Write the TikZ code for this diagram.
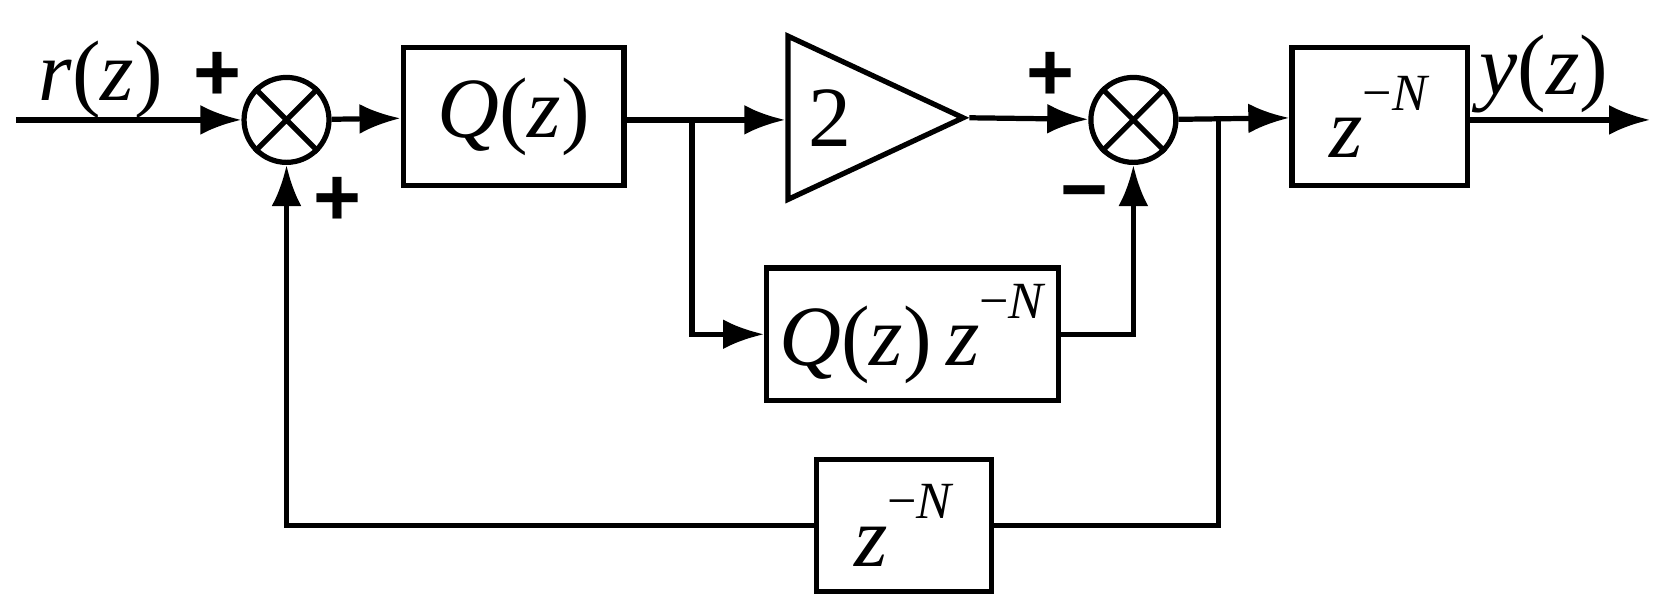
\documentclass[tikz,border=0pt]{standalone}
\usepackage{fontspec}
\setmainfont{Liberation Serif}
\newfontfamily\sgnfont{Liberation Sans}
\usetikzlibrary{arrows.meta,shapes.geometric}
\newcommand\mi[1]{\textit{#1}}
\newcommand\zN{\mi{z}\raisebox{0.55em}{\fontsize{14}{17}\selectfont −\mi{N}}}
\begin{document}
\begin{tikzpicture}[x=0.01cm,y=-0.01cm,line width=1.4pt,
  font=\fontsize{23}{27}\selectfont,
  arr/.style={-{Latex[length=11pt,width=8pt]}},
  sum/.style={draw,circle,minimum size=0.8cm,inner sep=0pt},
  sgn/.style={font=\fontsize{22}{26}\selectfont\sgnfont\bfseries}]
\useasboundingbox (0,0) rectangle (1568,574);
\coordinate (in) at (15,113);
\node[sum] (s1) at (270,113) {};
\draw (s1.45)--(s1.225) (s1.135)--(s1.315);
\node[draw,minimum width=2.08cm,minimum height=1.3cm] (q) at (484,110) {\mi{Q}(\mi{z})};
\node[draw,isosceles triangle,isosceles triangle apex angle=50,minimum height=1.65cm,inner sep=0pt,anchor=west] (g) at (740,111) {};
\node at (782,111) {2};
\node[sum] (s2) at (1068,113) {};
\draw (s2.45)--(s2.225) (s2.135)--(s2.315);
\node[draw,minimum width=1.65cm,minimum height=1.3cm] (d1) at (1300,110) {\zN};
\coordinate (out) at (1555,113);
\node[draw,minimum width=2.5cm,minimum height=1.25cm] (qd) at (860,315) {\mi{Q}(\mi{z})\,\zN};
\node[draw,minimum width=1.65cm,minimum height=1.24cm] (d2) at (852,495) {\zN};
\coordinate (b1) at (652,113);
\coordinate (b2) at (1148,113);
\draw[arr] (in) -- (s1);
\draw[arr] (s1) -- (q);
\draw[arr] (q.east |- b1) -- (g.west |- b1);
\draw[arr] (g.apex) -- (s2);
\draw[arr] (s2) -- (d1);
\draw[arr] (d1.east |- out) -- (out);
\draw[arr] (b1) |- (qd.west);
\draw[arr] (qd.east) -| (s2.south);
\draw (b2) |- (d2.east);
\draw[arr] (d2.west) -| (s1.south);
\node at (95,75) {\mi{r}(\mi{z})};
\node at (1455,70) {\mi{y}(\mi{z})};
\node[sgn] at (205,72) {+};
\node[sgn] at (318,190) {+};
\node[sgn] at (990,72) {+};
\node[sgn] at (1022,190) {−};
\end{tikzpicture}
\end{document}
